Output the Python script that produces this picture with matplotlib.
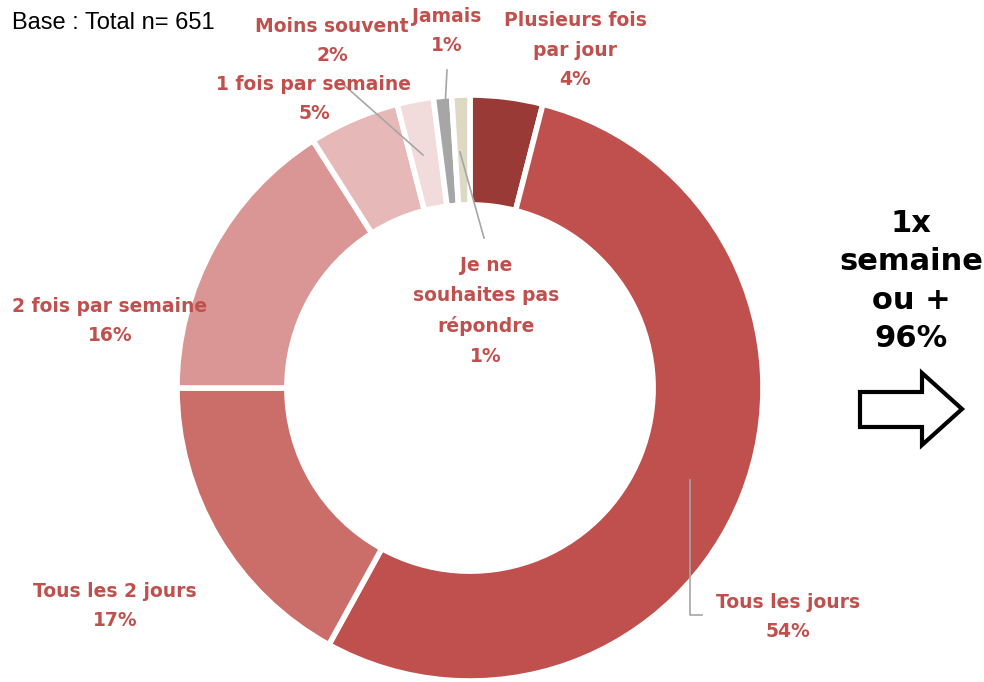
import matplotlib.pyplot as plt
from matplotlib.patches import Polygon

# données
categories = ["Plusieurs fois\npar jour", "Tous les jours", "Tous les 2 jours",
              "2 fois par semaine", "1 fois par semaine", "Moins souvent",
              "Jamais", "Je ne\nsouhaites pas\nrépondre"]
values = [4, 54, 17, 16, 5, 2, 1, 1]
colors = ["#993A36", "#C0504D", "#CB6D69", "#D99694", "#E6B9B8", "#F2DCDB",
          "#A6A6A6", "#DDD9C3"]
total_n = 651
summary_pct = 96

W, H = 984, 682
fig = plt.figure(figsize=(W / 100, H / 100), dpi=100)
ax = fig.add_axes([0, 0, 1, 1])
ax.set_xlim(0, W)
ax.set_ylim(0, H)
ax.set_aspect("equal")
ax.axis("off")

def Y(y):
    # coordonnées pixel (haut = 0) -> axes
    return H - y

cx, cy, r = 470, Y(388), 293
ax.pie(values, colors=colors, startangle=90, counterclock=False,
       center=(cx, cy), radius=r,
       wedgeprops=dict(width=r * 0.375, edgecolor="white", linewidth=4))
ax.set_xlim(0, W)
ax.set_ylim(0, H)

red = "#C0504D"
grey = "#A6A6A6"
font = dict(family="DejaVu Sans", weight="bold", color=red, fontsize=13.5,
            ha="center", va="center", linespacing=1.7)

# positions des étiquettes (pixels)
label_pos = [(575, 50), (788, 617), (115, 606), (110, 321),
             (314, 99), (332, 41), (447, 31), (486, 311)]
for cat, v, (x, y) in zip(categories, values, label_pos):
    ax.text(x, Y(y), f"{cat}\n{v}%", **font)

# lignes de rappel
ax.plot([690, 690, 702], [Y(480), Y(615), Y(615)], color=grey, lw=1.2)
ax.plot([344, 423], [Y(85), Y(155)], color=grey, lw=1.2)
ax.plot([447, 445], [Y(70), Y(108)], color=grey, lw=1.2)
ax.plot([460, 484], [Y(152), Y(238)], color=grey, lw=1.2)

ax.text(12, Y(23), f"Base : Total n= {total_n}", family="Liberation Sans",
        fontsize=17, ha="left", va="center", color="black")

ax.text(911, Y(281), f"1x\nsemaine\nou +\n{summary_pct}%", family="DejaVu Sans",
        weight="bold", fontsize=22, ha="center", va="center", linespacing=1.42)

arrow = [(860, 392), (922, 392), (922, 373), (962, 409), (922, 445),
         (922, 427), (860, 427)]
ax.add_patch(Polygon([(x, Y(y)) for x, y in arrow], closed=True,
                     facecolor="white", edgecolor="black", linewidth=3))

fig.savefig("out.png", dpi=100)
